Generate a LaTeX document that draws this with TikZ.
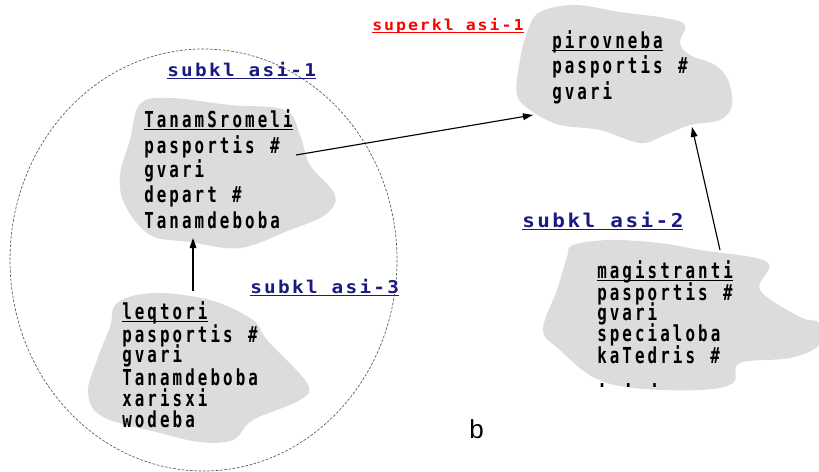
\documentclass[tikz,border=0pt]{standalone}
\usepackage{fontspec}
\usetikzlibrary{arrows.meta}
\setmainfont{Liberation Sans}
\newfontfamily\geo[FakeStretch=0.72, LetterSpace=14]{DejaVu Sans Mono}
\newfontfamily\lab[FakeStretch=1.1, LetterSpace=13]{DejaVu Sans Mono}
\definecolor{navy}{RGB}{26,26,128}
\definecolor{blobgray}{RGB}{220,220,220}
\newcommand\ulx[1]{\setbox0=\hbox{#1}\rlap{\rule[-2.4pt]{\wd0}{0.8pt}}\box0}
\newcommand\hs{\kern2pt\#}
\tikzset{
  blob/.style={fill=blobgray, draw=none},
  ln/.style={anchor=base west, inner sep=0pt, font={\fontsize{16.5}{18}\selectfont\geo\bfseries}},
  lbl/.style={anchor=base west, inner sep=0pt},
  arr/.style={-{Triangle[length=7.5pt,width=5pt]}, line width=0.85pt},
  ring/.style={draw=black!65, line width=0.5pt, dash pattern=on 2pt off 1.2pt}
}
\begin{document}
\begin{tikzpicture}[x=0.75pt,y=-0.75pt]
\useasboundingbox (0,0) rectangle (819,472);
% dashed ellipse
\draw[ring] (203.5,260) ellipse [x radius=193.5, y radius=211];
% blobs
\fill[blob] plot[smooth cycle, tension=0.6] coordinates {(140,104) (170,98) (230,105) (285,110) (300,135) (310,165) (335,195) (325,215) (290,230) (240,248) (190,242) (150,235) (125,205) (120,175) (130,140)};
\fill[blob] plot[smooth cycle, tension=0.6] coordinates {(117,303) (153,293) (210,300) (253,320) (267,340) (307,383) (300,400) (253,420) (233,440) (200,442) (160,433) (103,417) (88,393) (97,360) (110,327)};
\fill[blob] plot[smooth cycle, tension=0.6] coordinates {(540,12) (575,5) (620,12) (665,18) (685,25) (680,43) (690,55) (715,65) (728,80) (732,105) (720,120) (690,125) (665,135) (640,143) (600,130) (560,125) (533,112) (517,95) (520,60) (528,30)};
\fill[blob] plot[smooth cycle, tension=0.6] coordinates {(573,245) (610,240) (660,243) (700,250) (767,262) (760,290) (800,317) (819,323) (819,345) (790,358) (740,363) (733,383) (700,390) (633,388) (593,377) (560,350) (543,330) (557,290) (567,257)};
% labels
\node[lbl, text=red, font={\fontsize{11.3}{13}\selectfont\lab\bfseries}] (sup1) at (372,30) {\ulx{superkl asi-1}};
\node[lbl, text=navy, font={\fontsize{13.2}{15}\selectfont\lab\bfseries}] (sub1) at (167,76) {\ulx{subkl asi-1}};
\node[lbl, text=navy, font={\fontsize{13.2}{15}\selectfont\lab\bfseries}] (sub3) at (250,293) {\ulx{subkl asi-3}};
\node[lbl, text=navy, font={\fontsize{14.3}{16}\selectfont\lab\bfseries}] (sub2) at (522,227) {\ulx{subkl asi-2}};
% pirovneba
\node[ln] (p1) at (552,48) {\ulx{pirovneba}};
\node[ln] (p2) at (552,73) {pasportis \hs};
\node[ln] (p3) at (552,99) {gvari};
% TanamSromeli
\node[ln] (t1) at (144,127) {\ulx{TanamSromeli}};
\node[ln] (t2) at (144,153) {pasportis \hs};
\node[ln] (t3) at (144,177) {gvari};
\node[ln] (t4) at (144,202) {depart \hs};
\node[ln] (t5) at (144,228) {Tanamdeboba};
% leqtori
\node[ln] (l1) at (122,319) {\ulx{leqtori}};
\node[ln] (l2) at (122,342) {pasportis \hs};
\node[ln] (l3) at (122,362) {gvari};
\node[ln] (l4) at (122,385) {Tanamdeboba};
\node[ln] (l5) at (122,406) {xarisxi};
\node[ln] (l6) at (122,427) {wodeba};
% magistranti
\node[ln] (m1) at (597,278) {\ulx{magistranti}};
\node[ln] (m2) at (597,300) {pasportis \hs};
\node[ln] (m3) at (597,320) {gvari};
\node[ln] (m4) at (597,341) {specialoba};
\node[ln] (m5) at (597,363) {kaTedris \hs};
\node[ln] (m6) at (597,387) {. . .};
% b
\node[lbl, font={\fontsize{19.5}{22}\selectfont}] (bl) at (469,438) {b};
% arrow end points
\coordinate (a1s) at (296,155);
\coordinate (a1e) at (533,115);
\coordinate (a2s) at (193,291);
\coordinate (a2e) at (193,238);
\coordinate (a3s) at (720,250);
\coordinate (a3e) at (692,127);
\draw[arr] (a1s) -- (a1e);
\draw[arr] (a2s) -- (a2e);
\draw[arr] (a3s) -- (a3e);
\end{tikzpicture}
\end{document}
